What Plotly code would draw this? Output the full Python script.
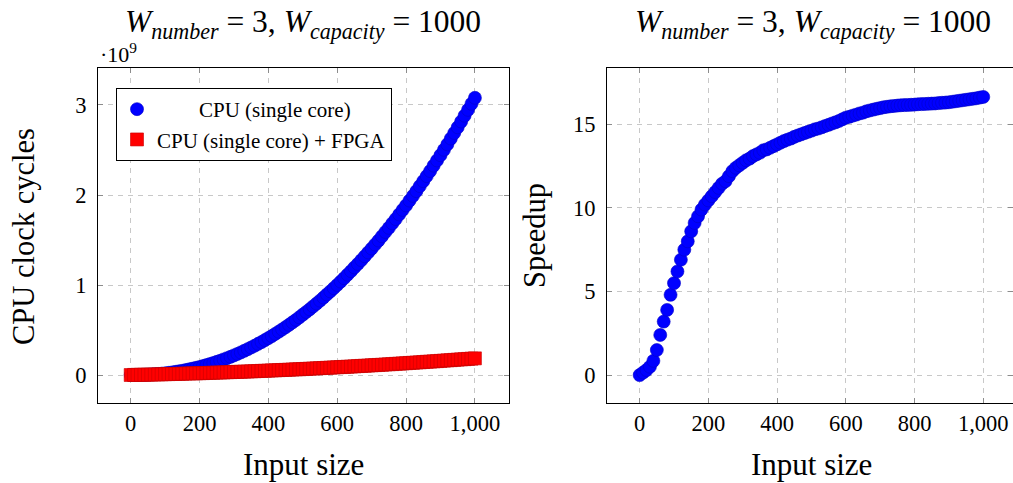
import plotly.graph_objects as go

W, H = 1013, 483

# ---------------- data ----------------
input_size = list(range(0, 1001, 10))

# CPU clock cycles (in units of 1e9)
cpu_cycles_e9 = [
    0.000, 0.0001, 0.0006, 0.0014, 0.0026, 0.0042, 0.0063, 0.0089, 0.012, 0.015,
    0.019, 0.024, 0.029, 0.035, 0.041, 0.047, 0.055, 0.063, 0.071, 0.080,
    0.089, 0.099, 0.110, 0.121, 0.133, 0.146, 0.159, 0.173, 0.187, 0.202,
    0.218, 0.234, 0.251, 0.269, 0.287, 0.306, 0.325, 0.346, 0.366, 0.388,
    0.410, 0.433, 0.457, 0.481, 0.506, 0.531, 0.558, 0.585, 0.612, 0.641,
    0.671, 0.700, 0.730, 0.762, 0.794, 0.826, 0.860, 0.895, 0.929, 0.965,
    1.001, 1.038, 1.076, 1.115, 1.154, 1.195, 1.234, 1.276, 1.319, 1.362,
    1.405, 1.450, 1.494, 1.541, 1.589, 1.635, 1.685, 1.733, 1.784, 1.834,
    1.884, 1.938, 1.990, 2.043, 2.099, 2.154, 2.210, 2.266, 2.326, 2.384,
    2.442, 2.502, 2.563, 2.627, 2.689, 2.752, 2.816, 2.881, 2.946, 3.013,
    3.080,
]

# CPU (single core) + FPGA clock cycles (in units of 1e9)
fpga_cycles_e9 = [
    0.000, 0.001, 0.002, 0.003, 0.003, 0.004, 0.005, 0.006, 0.007, 0.008,
    0.009, 0.010, 0.011, 0.012, 0.013, 0.014, 0.016, 0.017, 0.018, 0.019,
    0.020, 0.021, 0.023, 0.024, 0.025, 0.027, 0.028, 0.029, 0.031, 0.032,
    0.034, 0.035, 0.036, 0.038, 0.039, 0.041, 0.042, 0.044, 0.046, 0.047,
    0.049, 0.051, 0.052, 0.054, 0.056, 0.057, 0.059, 0.061, 0.063, 0.064,
    0.066, 0.068, 0.070, 0.072, 0.074, 0.076, 0.078, 0.080, 0.082, 0.084,
    0.086, 0.088, 0.090, 0.092, 0.094, 0.096, 0.099, 0.101, 0.103, 0.105,
    0.108, 0.110, 0.112, 0.114, 0.117, 0.119, 0.121, 0.124, 0.126, 0.129,
    0.131, 0.134, 0.136, 0.139, 0.141, 0.144, 0.147, 0.149, 0.152, 0.154,
    0.157, 0.160, 0.163, 0.165, 0.168, 0.171, 0.174, 0.176, 0.179, 0.182,
    0.185,
]

speedup = [
    0.00, 0.15, 0.30, 0.50, 0.85, 1.50, 2.40, 3.20, 3.90, 4.80,
    5.50, 6.20, 6.90, 7.50, 8.00, 8.60, 9.10, 9.50, 9.90, 10.20,
    10.45, 10.70, 10.95, 11.20, 11.45, 11.60, 11.90, 12.20, 12.40, 12.55,
    12.70, 12.85, 12.95, 13.10, 13.20, 13.30, 13.45, 13.50, 13.60, 13.70,
    13.80, 13.90, 14.00, 14.08, 14.15, 14.25, 14.33, 14.40, 14.48, 14.55,
    14.62, 14.70, 14.75, 14.82, 14.90, 14.97, 15.05, 15.12, 15.20, 15.30,
    15.40, 15.45, 15.52, 15.58, 15.65, 15.70, 15.78, 15.83, 15.88, 15.93,
    15.97, 16.02, 16.05, 16.08, 16.10, 16.12, 16.14, 16.15, 16.16, 16.17,
    16.18, 16.20, 16.21, 16.22, 16.23, 16.24, 16.25, 16.27, 16.29, 16.30,
    16.32, 16.35, 16.38, 16.41, 16.44, 16.47, 16.50, 16.53, 16.56, 16.60,
    16.64,
]

x_tickvals = [0, 200, 400, 600, 800, 1000]
x_ticktext = ["0", "200", "400", "600", "800", "1,000"]
y1_tickvals = [0, 1, 2, 3]
y2_tickvals = [0, 5, 10, 15]

series_names = ["CPU (single core)", "CPU (single core) + FPGA"]
NB = "\u00a0"
title_text = ("<i>W</i><sub><i>number</i></sub>" + NB + "=" + NB + "3, "
              "<i>W</i><sub><i>capacity</i></sub>" + NB + "=" + NB + "1000")

FONT = "Liberation Serif"

# ---------------- figure ----------------
fig = go.Figure()

fig.add_trace(go.Scatter(
    x=input_size, y=cpu_cycles_e9, mode="markers",
    name=NB * 8 + series_names[0],
    marker=dict(symbol="circle", size=13, color="#0000ff",
                line=dict(color="#0000c8", width=0.6)),
    xaxis="x", yaxis="y", showlegend=True,
))
fig.add_trace(go.Scatter(
    x=input_size, y=fpga_cycles_e9, mode="markers",
    name=series_names[1],
    marker=dict(symbol="square", size=13, color="#ff0000",
                line=dict(color="#c80000", width=0.6)),
    xaxis="x", yaxis="y", showlegend=True,
))
fig.add_trace(go.Scatter(
    x=input_size, y=speedup, mode="markers",
    marker=dict(symbol="circle", size=13, color="#0000ff",
                line=dict(color="#0000c8", width=0.6)),
    xaxis="x2", yaxis="y2", showlegend=False,
))

def px(x):
    return x / W

def py(y):
    return 1 - y / H

axis_common = dict(
    showline=True, linecolor="black", linewidth=1, mirror="ticks",
    ticks="inside", ticklen=5, tickcolor="#8c8c8c", tickwidth=1,
    showgrid=True, gridcolor="#c8c8c8", gridwidth=1, griddash="5px,5px",
    zeroline=False,
    tickfont=dict(family=FONT, size=22.5, color="black"),
)

ydom = [py(403), py(68)]
fig.update_layout(
    width=W, height=H, autosize=False,
    margin=dict(l=0, r=0, t=0, b=0),
    paper_bgcolor="white", plot_bgcolor="white",
    font=dict(family=FONT, color="black"),
    xaxis=dict(domain=[px(98), px(509)], range=[-95, 1099],
               tickvals=x_tickvals, ticktext=x_ticktext,
               ticklabelstandoff=0, anchor="y", **axis_common),
    yaxis=dict(domain=ydom, range=[-0.311, 3.411], tickvals=y1_tickvals,
               ticklabelstandoff=6, anchor="x", **axis_common),
    xaxis2=dict(domain=[px(607), 1.0], range=[-95, 1086.5],
                tickvals=x_tickvals, ticktext=x_ticktext,
                ticklabelstandoff=0, anchor="y2", **axis_common),
    yaxis2=dict(domain=ydom, range=[-1.67, 18.37], tickvals=y2_tickvals,
                ticklabelstandoff=6, anchor="x2", **axis_common),
    legend=dict(x=px(116), y=py(88), xanchor="left", yanchor="top",
                bgcolor="white", bordercolor="black", borderwidth=1,
                font=dict(family=FONT, size=21, color="black"),
                tracegroupgap=0, itemwidth=30),
)

annotations = [
    dict(text=title_text, x=px(303), y=py(24), font=dict(size=31.5)),
    dict(text=title_text, x=px(813), y=py(24), font=dict(size=31.5)),
    dict(text="\u00b710<sup>9</sup>", x=px(98), y=py(53), xanchor="left",
         font=dict(size=22)),
    dict(text="CPU clock cycles", x=px(24), y=py(237), textangle=-90,
         font=dict(size=30.5)),
    dict(text="Speedup", x=px(535), y=py(236), textangle=-90,
         font=dict(size=30.5)),
    dict(text="Input size", x=px(303), y=py(464), font=dict(size=31)),
    dict(text="Input size", x=px(811), y=py(464), font=dict(size=31)),
]
for a in annotations:
    a.setdefault("xanchor", "center")
    a.update(xref="paper", yref="paper", yanchor="middle", showarrow=False)
    a["font"] = dict(family=FONT, color="black", **a["font"])
fig.update_layout(annotations=annotations)

fig.write_html("out.html")
